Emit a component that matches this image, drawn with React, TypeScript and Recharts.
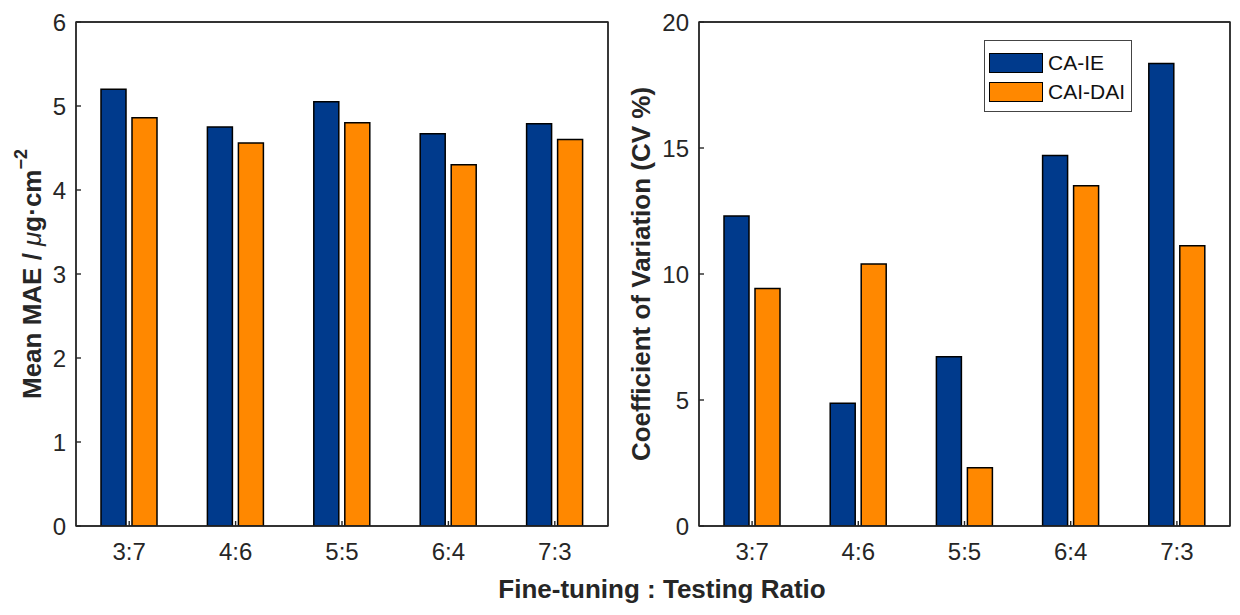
import React from 'react';
import { BarChart, Bar, XAxis, YAxis, Legend, Label, ReferenceArea } from 'recharts';

const RATIOS = ['3:7', '4:6', '5:5', '6:4', '7:3'];
const MAE_CA_IE = [5.2, 4.75, 5.05, 4.67, 4.79];
const MAE_CAI_DAI = [4.86, 4.56, 4.8, 4.3, 4.6];
const CV_CA_IE = [12.3, 4.87, 6.72, 14.7, 18.35];
const CV_CAI_DAI = [9.42, 10.4, 2.31, 13.5, 11.12];

const MAE_TICKS = [0, 1, 2, 3, 4, 5, 6];
const CV_TICKS = [0, 5, 10, 15, 20];

const BLUE = '#003A8C';
const ORANGE = '#FF8800';
const INK = '#262626';
const FONT = '"Liberation Sans", Arial, sans-serif';

const maeData = RATIOS.map((ratio, i) => ({ ratio, caie: MAE_CA_IE[i], caidai: MAE_CAI_DAI[i] }));
const cvData = RATIOS.map((ratio, i) => ({ ratio, caie: CV_CA_IE[i], caidai: CV_CAI_DAI[i] }));

const tickStyle = { fontSize: 24, fill: INK, fontFamily: FONT };

function maeLabel(props: any) {
  const cx = 32;
  const cy = 274;
  return (
    <text
      x={cx}
      y={cy}
      transform={`rotate(-90, ${cx}, ${cy})`}
      textAnchor="middle"
      dominantBaseline="central"
      fontFamily={FONT}
      fontSize={26}
      fontWeight="bold"
      fill={INK}
    >
      <tspan>Mean MAE / </tspan>
      <tspan fontStyle="italic" fontWeight="normal">μ</tspan>
      <tspan>g·cm</tspan>
      <tspan dy={-11} fontSize={18}>−2</tspan>
    </text>
  );
}

function cvLabel(props: any) {
  const cx = 21;
  const cy = 274;
  return (
    <text
      x={cx}
      y={cy}
      transform={`rotate(-90, ${cx}, ${cy})`}
      textAnchor="middle"
      dominantBaseline="central"
      fontFamily={FONT}
      fontSize={26}
      fontWeight="bold"
      fill={INK}
    >
      Coefficient of Variation (CV %)
    </text>
  );
}

function legendBox(props: any) {
  const items = props.payload || [];
  return (
    <div
      style={{
        border: '1.5px solid #444',
        background: '#fff',
        padding: '7px 6px 5px 4px',
        fontFamily: FONT,
        fontSize: 21,
        color: '#111',
      }}
    >
      {items.map((item: any) => (
        <div key={item.value} style={{ display: 'flex', alignItems: 'center', height: 29 }}>
          <span
            style={{
              display: 'inline-block',
              width: 52,
              height: 18,
              background: item.color,
              border: '1.5px solid #000',
              marginRight: 5,
            }}
          />
          <span>{item.value}</span>
        </div>
      ))}
    </div>
  );
}

type PanelProps = {
  data: any[];
  ticks: number[];
  max: number;
  yWidth: number;
  right: number;
  yLabel: (p: any) => React.ReactElement;
  legend?: boolean;
};

function Panel({ data, ticks, max, yWidth, right, yLabel, legend }: PanelProps) {
  return (
    <BarChart
      width={620}
      height={615}
      data={data}
      margin={{ top: 21, right, bottom: 29, left: 0 }}
      barSize={25}
      barGap={6}
    >
      <XAxis
        dataKey="ratio"
        height={60}
        tick={tickStyle}
        tickSize={-5}
        tickMargin={22}
        stroke={INK}
        strokeWidth={1.4}
      />
      <XAxis
        xAxisId="top"
        dataKey="ratio"
        orientation="top"
        height={1}
        tick={false}
        tickSize={-6}
        stroke={INK}
        strokeWidth={1.4}
      />
      <YAxis
        type="number"
        domain={[0, max]}
        ticks={ticks}
        allowDataOverflow
        width={yWidth}
        tick={tickStyle}
        tickSize={-5}
        tickMargin={15}
        stroke={INK}
        strokeWidth={1.4}
      >
        <Label content={yLabel} />
      </YAxis>
      <YAxis
        yAxisId="right"
        orientation="right"
        type="number"
        domain={[0, max]}
        ticks={ticks}
        allowDataOverflow
        width={1}
        tick={false}
        tickSize={-5}
        stroke={INK}
        strokeWidth={1.4}
      />
      <ReferenceArea y1={0} y2={max} fill="none" stroke={INK} strokeWidth={1.4} />
      {legend && (
        <Legend
          layout="vertical"
          align="center"
          verticalAlign="middle"
          content={legendBox}
          wrapperStyle={{ left: 364, top: 40, width: 'auto' }}
        />
      )}
      <Bar dataKey="caie" name="CA-IE" fill={BLUE} stroke="#000" strokeWidth={1.5} isAnimationActive={false} />
      <Bar dataKey="caidai" name="CAI-DAI" fill={ORANGE} stroke="#000" strokeWidth={1.5} isAnimationActive={false} />
    </BarChart>
  );
}

export default function App() {
  return (
    <div style={{ position: 'absolute', left: 0, top: 0, width: 1240, height: 615, background: '#fff' }}>
      <div style={{ position: 'absolute', left: 0, top: 0 }}>
        <Panel data={maeData} ticks={MAE_TICKS} max={6} yWidth={76} right={11} yLabel={maeLabel} />
      </div>
      <div style={{ position: 'absolute', left: 620, top: 0 }}>
        <Panel data={cvData} ticks={CV_TICKS} max={20} yWidth={79} right={9} yLabel={cvLabel} legend />
      </div>
      <div
        style={{
          position: 'absolute',
          left: 0,
          width: 1324,
          top: 574,
          textAlign: 'center',
          fontFamily: FONT,
          fontSize: 26,
          fontWeight: 'bold',
          color: INK,
          lineHeight: '30px',
        }}
      >
        Fine-tuning : Testing Ratio
      </div>
    </div>
  );
}
